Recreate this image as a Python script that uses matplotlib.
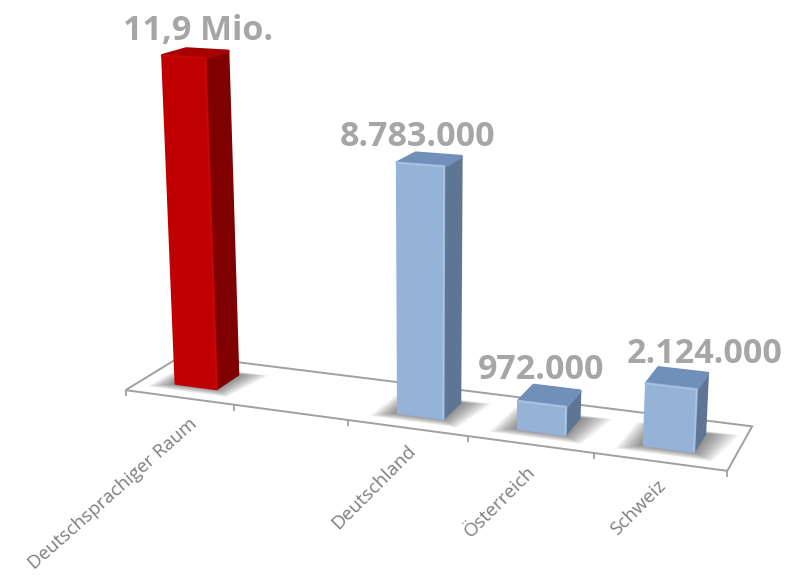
import numpy as np
import matplotlib
matplotlib.use("Agg")
import matplotlib.pyplot as plt
from matplotlib.patches import Polygon

categories = ["Deutschsprachiger Raum", "", "Deutschland", "Österreich", "Schweiz"]
values_mio = [11.9, None, 8.783, 0.972, 2.124]
value_labels = ["11,9 Mio.", "", "8.783.000", "972.000", "2.124.000"]
palette = {"red": ("#C00000", "#7E0000", "#A60000", "#C80808"),
           "blue": ("#95B3D7", "#5E7593", "#7090BA", "#A9C3E2")}
bar_palette = ["red", None, "blue", "blue", "blue"]

# label placement (pixels relative to the top-centre of the bar)
label_offsets = [(3, -22), None, (-12, -23), (-8, -26), (27, -24)]
# axis label placement (pixels relative to the axis point under the category)
cat_offsets = [(16, 24), None, (6, 20), (3, 25), (3, 21)]
cat_rotation = [41.5, None, 45, 45, 45]

# camera calibration: scene (pos, depth, height) -> image pixel
cal_scene = [(0, 0, 0), (5, 0, 0), (0, 1, 0), (5, 1, 0),
             (.31, .3, 11.9), (.69, .3, 11.9), (.69, .7, 11.9), (.31, .7, 11.9),
             (2.31, .3, 8.783), (2.69, .3, 8.783), (2.69, .7, 8.783), (2.31, .7, 8.783),
             (3.31, .3, .972), (3.69, .3, .972), (3.69, .7, .972), (3.31, .7, .972),
             (4.31, .3, 2.124), (4.69, .3, 2.124), (4.69, .7, 2.124), (4.31, .7, 2.124),
             (.31, .3, 0), (.69, .3, 0), (.69, .7, 0),
             (2.31, .3, 0), (2.69, .3, 0), (2.69, .7, 0),
             (3.31, .3, 0), (3.69, .3, 0), (3.69, .7, 0),
             (4.31, .3, 0), (4.69, .3, 0), (4.69, .7, 0),
             (1, 0, 0), (2, 0, 0), (3, 0, 0), (4, 0, 0)]
cal_image = [(125, 391), (726, 470), (183, 355), (752, 424),
             (162, 57), (206, 59), (227, 51), (187, 48),
             (397, 163), (445, 165), (461, 157), (415, 152),
             (518, 402), (568, 406), (579, 393), (533, 387),
             (646, 383), (698, 390), (707, 375), (658, 368),
             (176, 383), (217, 389), (238, 373),
             (398, 413), (444, 418), (460, 402),
             (518, 427), (567, 433), (579, 420),
             (644, 445), (695, 450), (705, 437),
             (233, 406), (348, 420), (468, 436), (593, 453)]


def fit_camera(scene, image):
    A, b = [], []
    for (X, Y, Z), (u, v) in zip(scene, image):
        A.append([X, Y, Z, 1, 0, 0, 0, 0, -u * X, -u * Y, -u * Z]); b.append(u)
        A.append([0, 0, 0, 0, X, Y, Z, 1, -v * X, -v * Y, -v * Z]); b.append(v)
    p = np.linalg.lstsq(np.array(A, float), np.array(b, float), rcond=None)[0]
    return np.append(p, 1.0).reshape(3, 4)


CAM = fit_camera(cal_scene, cal_image)


def proj(X, Y, Z=0.0):
    q = CAM @ np.array([X, Y, Z, 1.0])
    return q[0] / q[2], q[1] / q[2]


plt.rcParams["font.family"] = ["Open Sans", "DejaVu Sans"]
fig = plt.figure(figsize=(7.94, 5.76), dpi=100)
ax = fig.add_axes([0, 0, 1, 1])
ax.set_xlim(0, 794)
ax.set_ylim(576, 0)
ax.axis("off")

AX_C = "#A0A0A0"
n = len(categories)
# floor
ax.add_patch(Polygon([proj(0, 0), proj(n, 0), proj(n, 1), proj(0, 1)], closed=True,
                     fc="white", ec=AX_C, lw=1.4, zorder=1))
for i in range(n + 1):
    x0, y0 = proj(i, 0)
    ax.plot([x0, x0], [y0, y0 + 6], color=AX_C, lw=1.3, zorder=1, solid_capstyle="butt")

BW = 0.19
Y0, Y1 = 0.3, 0.7
order = [i for i in range(n) if values_mio[i] is not None]

for i in order:
    c = i + 0.5
    # soft shadow
    for k in range(14):
        e = 0.012 * (14 - k)
        ax.add_patch(Polygon([proj(c - BW - e * 1.1, Y0 - e * 0.9), proj(c + BW + e, Y0 - e * 0.9),
                              proj(c + BW + e * 1.5, Y1 + e * 0.4), proj(c - BW - e, Y1 + e * 0.4)],
                             closed=True, fc="#303030", ec="none", alpha=0.05, zorder=2))

for i in order:
    c = i + 0.5
    v = values_mio[i]
    front, side, top, hi = palette[bar_palette[i]]
    xl, xr = c - BW, c + BW
    ax.add_patch(Polygon([proj(xr, Y0), proj(xr, Y1), proj(xr, Y1, v), proj(xr, Y0, v)], closed=True,
                         fc=side, ec=side, lw=2, joinstyle="round", zorder=3))
    ax.add_patch(Polygon([proj(xl, Y0, v), proj(xr, Y0, v), proj(xr, Y1, v), proj(xl, Y1, v)], closed=True,
                         fc=top, ec=top, lw=2.5, joinstyle="round", zorder=3))
    ax.add_patch(Polygon([proj(xl, Y0), proj(xr, Y0), proj(xr, Y0, v), proj(xl, Y0, v)], closed=True,
                         fc=front, ec=front, lw=2, joinstyle="round", zorder=4))
    # bevel highlight along the top and right edges of the front face
    pts = [proj(xl, Y0, v), proj(xr, Y0, v), proj(xr, Y0)]
    ax.plot(*zip(*pts), color=hi, lw=1.2, solid_joinstyle="round", zorder=5)
    # data label
    tx, ty = proj(c, 0.5, v)
    dx, dy = label_offsets[i]
    ax.text(tx + dx, ty + dy, value_labels[i], color="#A6A6A6", fontsize=24.5, fontweight="bold",
            ha="center", va="center", zorder=6)

for i, name in enumerate(categories):
    if name:
        x0, y0 = proj(i + 0.5, 0)
        dx, dy = cat_offsets[i]
        ax.text(x0 + dx, y0 + dy, name, rotation=cat_rotation[i], rotation_mode="anchor", ha="right",
                va="center", color="#7F7F7F", fontsize=13.4 if i == 0 else 13.6, zorder=6)

fig.savefig("out.png", dpi=100, facecolor="white")
